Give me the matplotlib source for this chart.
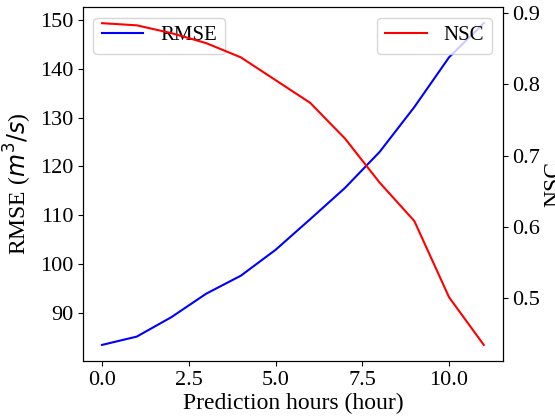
import matplotlib
matplotlib.use("Agg")
import matplotlib.pyplot as plt
from matplotlib.ticker import MultipleLocator

plt.rcParams['font.family'] = ['Liberation Serif', 'DejaVu Serif']

hours = [0, 1, 2, 3, 4, 5, 6, 7, 8, 9, 10, 11]
rmse = [83.4, 85.1, 89.1, 93.9, 97.6, 102.9, 109.2, 115.6, 123.0, 132.2, 142.4, 149.4]
nsc = [0.886, 0.883, 0.872, 0.858, 0.838, 0.806, 0.774, 0.724, 0.662, 0.608, 0.501, 0.434]

fig = plt.figure(figsize=(5.55, 4.18), dpi=100)
ax1 = fig.add_axes([0.1495, 0.1364, 0.7565, 0.8466])
ax1.plot(hours, rmse, color="blue", label="RMSE")
ax1.set_xlabel("Prediction hours (hour)", fontsize=17, labelpad=2)
ax1.set_ylabel("RMSE ($m^3/s$)", fontsize=17)
ax1.xaxis.set_major_locator(MultipleLocator(2.5))
ax1.yaxis.set_major_locator(MultipleLocator(10))
ax1.tick_params(labelsize=16)
ax1.legend(loc="upper left", fontsize=15)

ax2 = ax1.twinx()
ax2.plot(hours, nsc, color="red", label="NSC")
ax2.set_ylabel("NSC", fontsize=17, labelpad=2)
ax2.tick_params(labelsize=16)
ax2.legend(loc="upper right", fontsize=15)

fig.savefig("out.png")
